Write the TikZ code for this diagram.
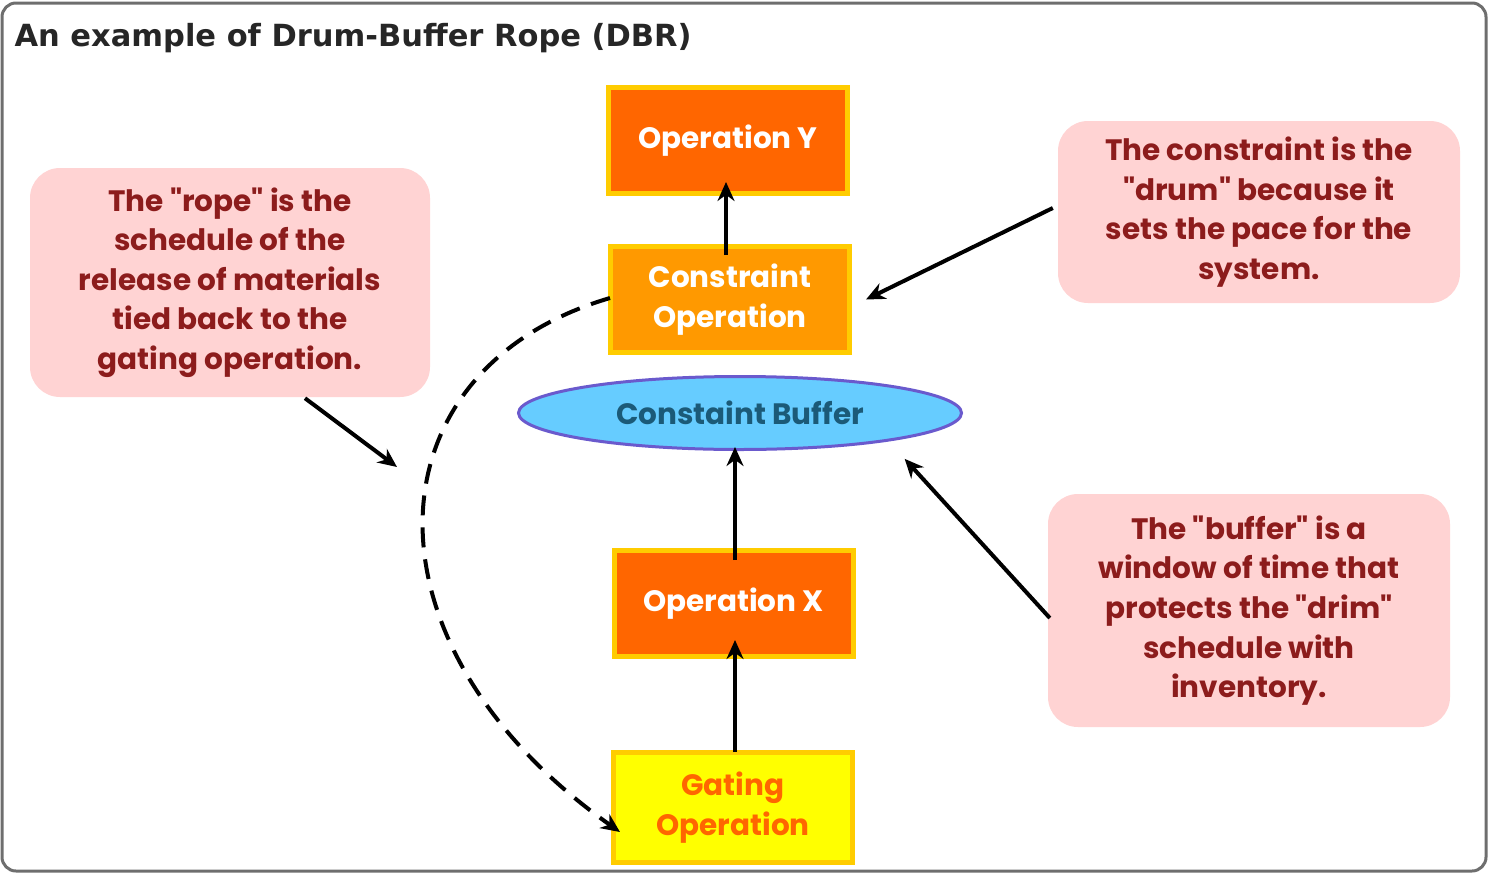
\documentclass[tikz,border=0pt]{standalone}
\usepackage{fontspec}
% plain family: no TeX ligature mapping, so " stays a straight quote
\newfontfamily\gothic{Poppins}
\newfontfamily\titlefont{DejaVu Sans}
\usetikzlibrary{arrows.meta,shapes.geometric}

\definecolor{opred}{HTML}{FF6600}
\definecolor{oporange}{HTML}{FF9900}
\definecolor{opyellow}{HTML}{FFFF00}
\definecolor{opborder}{HTML}{FFCC00}
\definecolor{buffill}{HTML}{66CCFF}
\definecolor{bufline}{HTML}{6A5ACD}
\definecolor{buftext}{HTML}{1B5A78}
\definecolor{notefill}{HTML}{FFD3D3}
\definecolor{notetext}{HTML}{8C1C1C}
\definecolor{framegray}{HTML}{6E6E6E}

\tikzset{
  opbox/.style={rectangle, draw=opborder, line width=5pt, inner sep=0pt,
    minimum width=239pt, minimum height=106pt, align=center,
    font=\gothic\fontsize{29.5}{40.5}\selectfont\bfseries},
  note/.style={rectangle, rounded corners=30pt, fill=notefill, inner sep=0pt,
    align=center, text=notetext, font=\gothic\fontsize{29.5}{39.6}\selectfont\bfseries},
  arr/.style={line width=4pt, -{Stealth[length=19pt,width=17pt]}},
  rope/.style={line width=4pt, dash pattern=on 20pt off 12pt,
    -{Stealth[length=19pt,width=17pt]}}
}

\begin{document}
\begin{tikzpicture}[x=1pt,y=-1pt]
  \useasboundingbox (0,0) rectangle (1488,873);
  % window frame
  \draw[framegray, line width=3pt, rounded corners=14pt] (2,3) rectangle (1486,871);

  % title
  \node[anchor=west, text=black!85, font=\titlefont\fontsize{30.5}{34}\selectfont\bfseries]
    (title) at (11,38) {An example of Drum-Buffer Rope (DBR)};

  % the process chain
  \node[opbox, fill=opred, text=white] (opy) at (728,140.5) {Operation Y};
  \node[opbox, fill=oporange, text=white] (cons) at (730,299.5) {Constraint\\Operation};
  \node[ellipse, draw=bufline, fill=buffill, line width=3pt, inner sep=0pt,
        minimum width=443pt, minimum height=73pt, text=buftext,
        font=\gothic\fontsize{29.5}{32}\selectfont\bfseries] (buf) at (740,413) {Constaint Buffer};
  \node[opbox, fill=opred, text=white] (opx) at (733.5,603.5) {Operation X};
  \node[opbox, fill=opyellow, text=opred, minimum height=110pt] (gate) at (733,807.5) {Gating\\Operation};

  % explanatory notes
  \node[note, minimum width=400pt, minimum height=229pt] (ropenote) at (230,282.5)
    {The "rope" is the\\schedule of the\\release of materials\\tied back to the\\gating operation.};
  \node[note, minimum width=402pt, minimum height=182pt] (drumnote) at (1259,212)
    {The constraint is the\\"drum" because it\\sets the pace for the\\system.};
  \node[note, minimum width=402pt, minimum height=233pt] (bufnote) at (1249,610.5)
    {The "buffer" is a\\window of time that\\protects the "drim"\\schedule with\\inventory.};

  % flow arrows
  \draw[arr] ([xshift=-4pt,yshift=-11pt]cons.north) -- ([xshift=-2pt,yshift=14pt]opy.south);
  \draw[arr] ([xshift=1.5pt,yshift=-12pt]opx.north) -- ([xshift=-5pt,yshift=4pt]buf.south);
  \draw[arr] ([xshift=2pt,yshift=-2pt]gate.north) -- ([xshift=1.5pt,yshift=19pt]opx.south);

  % the rope
  \draw[rope] ([xshift=2pt,yshift=1.5pt]cons.west)
    .. controls (365,370) and (355,645) .. ([xshift=9pt,yshift=-24.5pt]gate.west);

  % note pointers
  \coordinate (ropept) at (397,467);
  \draw[arr] ([xshift=75pt,yshift=-1pt]ropenote.south) -- (ropept);
  \draw[arr] ([xshift=-5pt,yshift=4pt]drumnote.west) -- ([xshift=14pt]cons.east);
  \draw[arr] ([xshift=2pt,yshift=-7.5pt]bufnote.west) -- ([xshift=7pt,yshift=-19pt]buf.south east);
\end{tikzpicture}
\end{document}
